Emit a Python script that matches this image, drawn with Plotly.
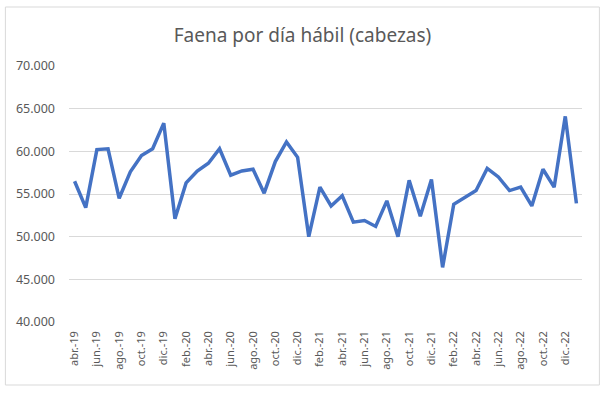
import plotly.graph_objects as go

months = ["ene.", "feb.", "mar.", "abr.", "may.", "jun.", "jul.", "ago.", "sep.", "oct.", "nov.", "dic."]
categories = []
for yr in range(19, 24):
    for m in months:
        categories.append(f"{m}-{yr}")
categories = categories[3:3 + 46]  # abr.-19 .. ene.-23

values = [56500, 53400, 60200, 60300, 54500, 57600, 59500, 60300, 63300, 52100,
          56300, 57700, 58600, 60300, 57200, 57700, 57900, 55100, 58800, 61100,
          59300, 50000, 55800, 53600, 54800, 51700, 51900, 51200, 54200, 50000,
          56600, 52400, 56700, 46400, 53800, 54600, 55400, 58000, 57000, 55400,
          55800, 53600, 57900, 55800, 64100, 53900]

tick_labels = categories[0::2]
title = "Faena por día hábil (cabezas)"

W, H = 607, 397
L, R, T, B = 68.6, 25.4, 66, 75
pw, ph = W - L - R, H - T - B

fig = go.Figure()
fig.add_trace(go.Scatter(x=categories, y=values, mode="lines",
                         line=dict(color="#4472C4", width=3.5), hoverinfo="x+y"))

fig.update_layout(
    width=W, height=H,
    margin=dict(l=L, r=R, t=T, b=B, pad=0),
    paper_bgcolor="white", plot_bgcolor="white",
    separators=",.",
    showlegend=False,
    font=dict(family="Noto Sans", color="#595959", size=12),
    title=dict(text=title, xref="container", x=302.5 / W,
               xanchor="center", y=1 - 35 / H, yanchor="middle",
               font=dict(family="Noto Sans", size=19, color="#595959")),
    xaxis=dict(type="category", categoryorder="array", categoryarray=categories,
               tickvals=tick_labels, ticktext=tick_labels, tickangle=-90,
               showgrid=False, showline=False, ticks="", zeroline=False,
               range=[-0.5, len(categories) - 0.5],
               ticklabelstandoff=6,
               tickfont=dict(size=11, color="#595959")),
    yaxis=dict(range=[40000, 70000], dtick=5000, tickformat=",",
               showgrid=True, gridcolor="#D9D9D9", gridwidth=1,
               zeroline=False, showline=False, ticks="",
               ticklabelstandoff=13,
               tickfont=dict(size=12.5, color="#595959")),
    shapes=[
        dict(type="rect", xref="paper", yref="paper",
             x0=(5 - L) / pw, x1=(599 - L) / pw,
             y0=(H - B - 385) / ph, y1=(H - B - 7) / ph,
             line=dict(color="#D9D9D9", width=1), fillcolor="rgba(0,0,0,0)", layer="below"),
    ],
)

fig.write_html("out.html", config={"displayModeBar": False},
               post_script="document.body.style.margin='0';document.body.style.overflow='hidden';")
